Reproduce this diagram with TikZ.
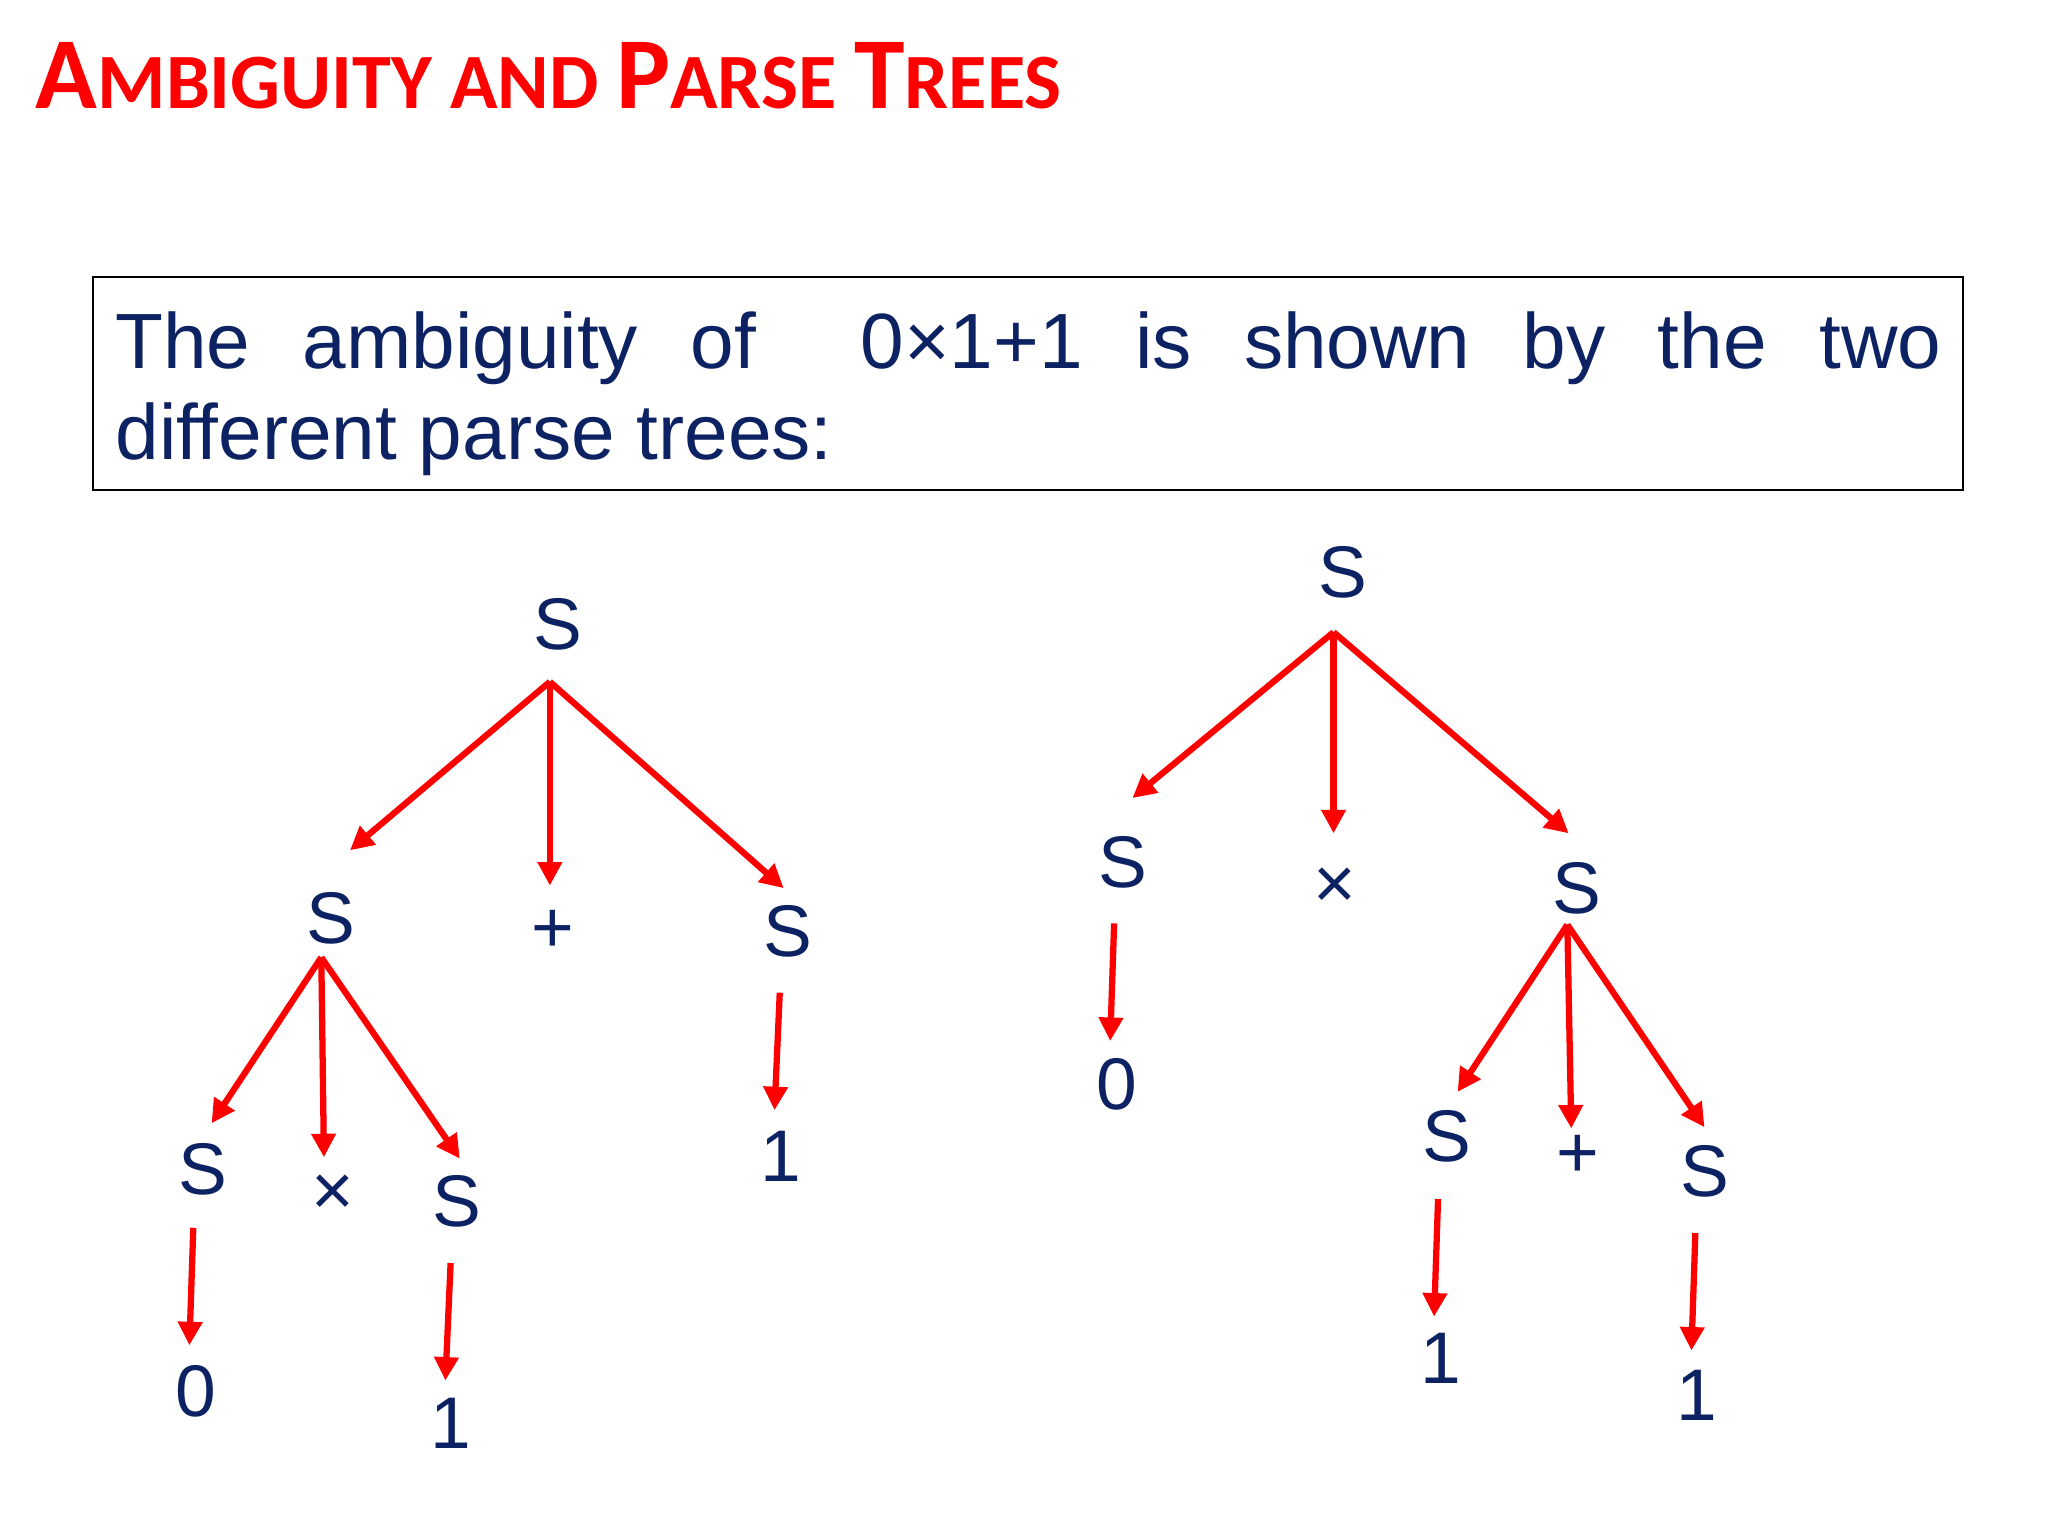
\documentclass[tikz,border=0pt]{standalone}
\usepackage{fontspec}
\setmainfont{Liberation Sans}
\newfontfamily\titlefont{Carlito}
\usetikzlibrary{arrows.meta}
\definecolor{navy}{RGB}{12,34,98}
\definecolor{pred}{RGB}{255,0,0}
\tikzset{
  lbl/.style={text=navy,font=\fontsize{28}{30}\selectfont,inner sep=2pt},
  edge/.style={draw=pred,line width=2.4pt,-{Triangle[length=9pt,width=9pt]}}
}
\begin{document}
\begin{tikzpicture}[x=0.5pt,y=-0.5pt]
\useasboundingbox (0,0) rectangle (1568,1176);
\node[anchor=base west,text=pred,inner sep=0,font=\titlefont\bfseries] (title) at (27,83)
 {\fontsize{39}{42}\selectfont A\fontsize{30}{34}\selectfont MBIGUITY AND \fontsize{39}{42}\selectfont P\fontsize{30}{34}\selectfont ARSE \fontsize{39}{42}\selectfont T\fontsize{30}{34}\selectfont REES};
\node[draw=black,line width=0.6pt,minimum width=716pt,minimum height=81.5pt,inner sep=0] (box) at (787,293.5) {};
\node[text=navy,text width=699pt,align=justify,inner sep=0,font=\fontsize{30}{35}\selectfont,anchor=north west] (txt) at (88,238)
 {The ambiguity of \ 0×1+1 is shown by the two\linebreak different parse trees:};
% left tree
\node[lbl] (a) at (427,478) {S};
\node[lbl] (a1) at (253,703) {S};
\node[lbl] (a2) at (423,713) {+};
\node[lbl] (a3) at (603,713) {S};
\node[lbl] (a11) at (155,895) {S};
\node[lbl] (a12) at (255,915) {×};
\node[lbl] (a13) at (350,920) {S};
\node[lbl] (a111) at (150,1065) {0};
\node[lbl] (a131) at (345,1090) {1};
\node[lbl] (a31) at (598,885) {1};
\coordinate (ao) at (421,522);
\coordinate (a1o) at (246,733);
\coordinate (a1i) at (268,651);
\coordinate (a2i) at (421,678);
\coordinate (a3i) at (600,680);
\coordinate (a11i) at (162,860);
\coordinate (a12i) at (248,886);
\coordinate (a13i) at (352,887);
\coordinate (a11o) at (148,940);
\coordinate (a111i) at (145,1030);
\coordinate (a13o) at (345,967);
\coordinate (a131i) at (341,1057);
\coordinate (a3o) at (597,760);
\coordinate (a31i) at (593,850);
\draw[edge] (ao) -- (a1i);
\draw[edge] (ao) -- (a2i);
\draw[edge] (ao) -- (a3i);
\draw[edge] (a1o) -- (a11i);
\draw[edge] (a1o) -- (a12i);
\draw[edge] (a1o) -- (a13i);
\draw[edge] (a11o) -- (a111i);
\draw[edge] (a13o) -- (a131i);
\draw[edge] (a3o) -- (a31i);
% right tree
\node[lbl] (b) at (1028,438) {S};
\node[lbl] (b1) at (860,660) {S};
\node[lbl] (b2) at (1022,680) {×};
\node[lbl] (b3) at (1207,680) {S};
\node[lbl] (b11) at (855,830) {0};
\node[lbl] (b31) at (1108,870) {S};
\node[lbl] (b32) at (1208,885) {+};
\node[lbl] (b33) at (1305,897) {S};
\node[lbl] (b311) at (1103,1040) {1};
\node[lbl] (b331) at (1299,1068) {1};
\coordinate (bo) at (1021,484);
\coordinate (b1i) at (867,611);
\coordinate (b2i) at (1021,638);
\coordinate (b3i) at (1201,638);
\coordinate (b1o) at (853,707);
\coordinate (b11i) at (850,797);
\coordinate (b3o) at (1200,708);
\coordinate (b31i) at (1116,836);
\coordinate (b32i) at (1203,864);
\coordinate (b33i) at (1305,863);
\coordinate (b31o) at (1101,918);
\coordinate (b311i) at (1098,1008);
\coordinate (b33o) at (1298,944);
\coordinate (b331i) at (1295,1034);
\draw[edge] (bo) -- (b1i);
\draw[edge] (bo) -- (b2i);
\draw[edge] (bo) -- (b3i);
\draw[edge] (b1o) -- (b11i);
\draw[edge] (b3o) -- (b31i);
\draw[edge] (b3o) -- (b32i);
\draw[edge] (b3o) -- (b33i);
\draw[edge] (b31o) -- (b311i);
\draw[edge] (b33o) -- (b331i);
\end{tikzpicture}
\end{document}
